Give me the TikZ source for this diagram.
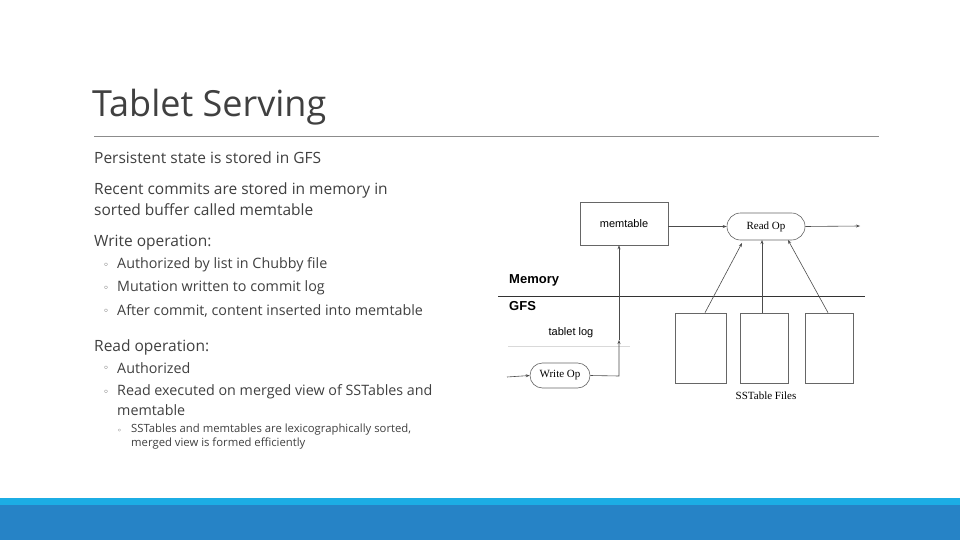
\documentclass[tikz,border=0pt]{standalone}
\usepackage{fontspec}
\setmainfont{Open Sans}
\newfontfamily\hel{Liberation Sans}
\newfontfamily\tim{Liberation Serif}
\newfontfamily\djv{DejaVu Sans}
\usetikzlibrary{arrows.meta,shapes.misc}
\definecolor{txt}{HTML}{404040}
\begin{document}
\begin{tikzpicture}[x=1pt,y=-1pt,
 t/.style={anchor=west,inner sep=0,text=txt,font=\fontsize{15.5}{19}\selectfont},
 s/.style={anchor=west,inner sep=0,text=txt,font=\fontsize{14.3}{18}\selectfont},
 ss/.style={anchor=west,inner sep=0,text=txt,font=\fontsize{11.3}{14}\selectfont},
 bul/.style={anchor=west,inner sep=0,text=txt,font=\djv\fontsize{10}{12}\selectfont},
 ln/.style={draw=black!70,line width=0.6pt},
 arr/.style={ln,-{Stealth[length=4pt,width=3pt]}},
 box/.style={draw=black!60,line width=0.6pt,minimum width=#1,inner sep=0},
 op/.style={draw=black!60,line width=0.6pt,rounded rectangle,inner sep=0,font=\tim\fontsize{11}{13}\selectfont}]
\useasboundingbox (0,0) rectangle (960,540);
\fill[white] (0,0) rectangle (960,540);
\fill[fill={rgb,255:red,28;green,173;blue,228}] (0,498) rectangle (960,505);
\fill[fill={rgb,255:red,38;green,131;blue,198}] (0,505) rectangle (960,540);
\node[anchor=west,inner sep=0,text=txt,font=\fontsize{36}{44}\selectfont] (title) at (92,107) {Tablet Serving};
\draw[black!45,line width=0.8pt] (94,136) -- (879,136);
\node[t] (a) at (94,158) {Persistent state is stored in GFS};
\node[t] (b) at (94,190) {Recent commits are stored in memory in};
\node[t] (b2) at (94,210) {sorted buffer called memtable};
\node[t] (c) at (94,243) {Write operation:};
\node[bul] (c1b) at (103,266) {◦}; \node[s] (c1) at (117,265) {Authorized by list in Chubby file};
\node[bul] (c2b) at (103,289) {◦}; \node[s] (c2) at (117,288) {Mutation written to commit log};
\node[bul] (c3b) at (103,312) {◦}; \node[s] (c3) at (117,311) {After commit, content inserted into memtable};
\node[t] (d) at (94,347) {Read operation:};
\node[bul] (d1b) at (103,369) {◦}; \node[s] (d1) at (117,368) {Authorized};
\node[bul] (d2b) at (103,393) {◦}; \node[s] (d2) at (117,392) {Read executed on merged view of SSTables and};
\node[s] (d2x) at (117,410) {memtable};
\node[bul,font=\djv\fontsize{8}{10}\selectfont] (e1b) at (117,431) {◦};
\node[ss] (e1) at (131,430) {SSTables and memtables are lexicographically sorted,};
\node[ss] (e2) at (131,444) {merged view is formed efficiently};
% diagram
\node[box=88pt,minimum height=43pt,font=\hel\fontsize{11}{13}\selectfont] (mem) at (624,223.5) {memtable};
\node[op,minimum width=78pt,minimum height=27pt] (rop) at (766,226.5) {Read Op};
\node[op,minimum width=60pt,minimum height=25pt] (wop) at (560,375.5) {Write Op};
\node[anchor=west,inner sep=0,font=\hel\bfseries\fontsize{13}{15}\selectfont] (memlab) at (509,280) {Memory};
\node[anchor=west,inner sep=0,font=\hel\bfseries\fontsize{13}{15}\selectfont] (gfs) at (509,306) {GFS};
\node[inner sep=0,font=\hel\fontsize{11}{13}\selectfont] (tlog) at (571,333) {tablet log};
\coordinate (l1) at (498,296); \coordinate (l2) at (865,296);
\draw[black!80,line width=0.8pt] (l1) -- (l2);
\coordinate (g1) at (508,346); \coordinate (g2) at (630,346);
\draw[black!15,line width=0.5pt] (g1) -- (g2);
\node[box=51pt,minimum height=70pt] (s1) at (700.5,348) {};
\node[box=48pt,minimum height=70pt] (s2) at (764,348) {};
\node[box=48pt,minimum height=70pt] (s3) at (829,348) {};
\node[inner sep=0,font=\tim\fontsize{11}{13}\selectfont] (sst) at (766,396) {SSTable Files};
\coordinate (win) at (507,377);
\coordinate (rout) at (860,226);
\coordinate (k) at (619,376);
\coordinate (km) at (619,340);
\draw[arr] (win) -- (wop.west);
\draw[arr] (wop.east) -- (k) -- (km);
\draw[arr] (km) -- (mem.south -| km);
\draw[arr] (mem.east |- rop) -- (rop.west);
\draw[arr] (rop.east) -- (rout);
\draw[arr] (s1.north -| 705,0) -- (742,243);
\draw[arr] (s2.north -| 762,0) -- (762,240);
\draw[arr] (s3.north -| 828,0) -- (788,240);
\end{tikzpicture}
\end{document}
